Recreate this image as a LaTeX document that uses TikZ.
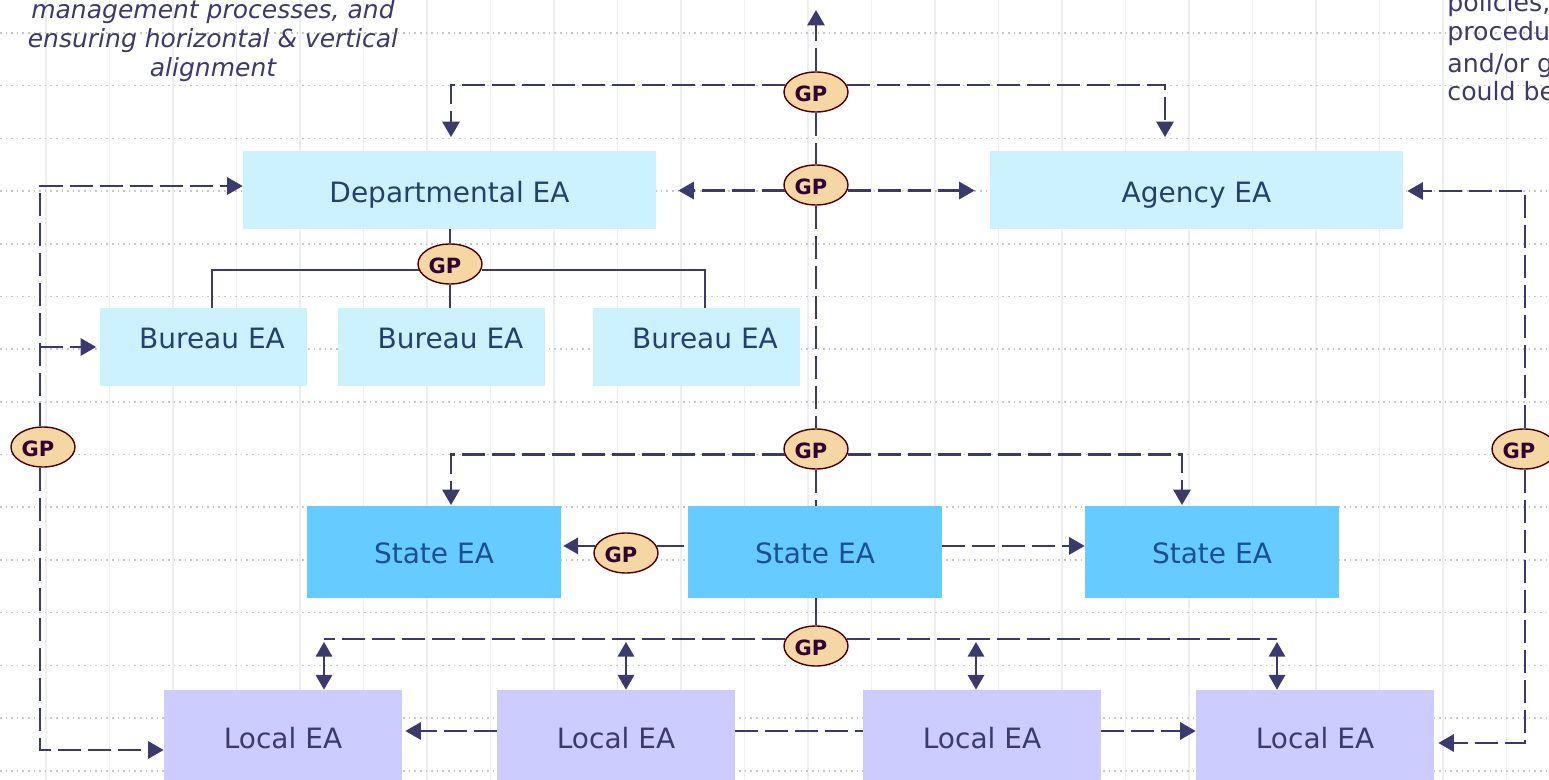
\documentclass[tikz,border=0pt]{standalone}
\usepackage{fontspec}
\setmainfont{DejaVu Sans}
\usetikzlibrary{calc}
\usetikzlibrary{arrows}
\usetikzlibrary{shapes.geometric}
\definecolor{linecol}{HTML}{3B3A6E}
\definecolor{deptcol}{HTML}{CCF2FF}
\definecolor{statecol}{HTML}{66CCFF}
\definecolor{localcol}{HTML}{CCCCFF}
\definecolor{gpcol}{HTML}{F6D7A4}
\definecolor{depttext}{HTML}{24406E}
\definecolor{statetext}{HTML}{1A4E9A}
\newcommand{\gptext}{GP\kern5pt\relax}
\tikzset{
  box/.style={minimum height=39pt, inner sep=0pt, text height=13pt, text depth=0pt, font=\fontsize{14}{16}\selectfont},
  deptbox/.style={box, fill=deptcol, minimum width=206.5pt, text=depttext},
  bureaubox/.style={box, fill=deptcol, minimum width=103.5pt},
  bulabel/.style={xshift=4.5pt, yshift=4.5pt, text=depttext, font=\fontsize{14}{16}\selectfont},
  statebox/.style={box, fill=statecol, minimum width=127pt, minimum height=46pt, text height=11.5pt, text=statetext},
  localbox/.style={box, fill=localcol, minimum width=119pt, minimum height=45pt, text=linecol},
  gp/.style={draw=black!70!red, line width=0.7pt, fill=gpcol, ellipse, minimum width=32pt, minimum height=20pt, inner sep=0pt, text height=9.7pt, text depth=0pt, font=\bfseries\fontsize{10.5}{12}\selectfont, text=black!60!violet},
  plainline/.style={draw=linecol, line width=1pt},
  dashline/.style={draw=linecol, line width=1.1pt, dash pattern=on 11.5pt off 3.5pt},
  note/.style={text=linecol, font=\fontsize{12.6}{15}\selectfont, inner sep=0pt, anchor=base west},
  notei/.style={text=linecol, font=\itshape\fontsize{12.5}{15}\selectfont, inner sep=0pt, anchor=base}
}
\begin{document}
\begin{tikzpicture}[x=0.5pt, y=-0.5pt, >=triangle 60]
\clip (0,0) rectangle (1549,780);

% grid
\foreach \x in {46,109.5,...,1549} \draw[color=linecol!9, line width=0.8pt] (\x,0) -- (\x,780);
\foreach \y in {33,85.7,...,780} \draw[color=black!22, line width=0.8pt, dotted] (0,\y) -- (1549,\y);

% texts at the top
\node[notei] (NL1) at (213,19) {management processes, and};
\node[notei] (NL2) at (213,48) {ensuring horizontal \& vertical};
\node[notei] (NL3) at (213,77) {alignment};
\node[note] (NR1) at (1447,12) {policies,};
\node[note] (NR2) at (1447,41) {procedu};
\node[note] (NR3) at (1447,73) {and/or g};
\node[note] (NR4) at (1447,101) {could be};

% boxes
\node[deptbox] (DEPT) at (449.5,190) {Departmental EA};
\node[deptbox] (AGENCY) at (1196.5,190) {Agency EA};
\node[bureaubox, label={[bulabel]center:Bureau EA}] (BU1) at (203,347) {};
\node[bureaubox, label={[bulabel]center:Bureau EA}] (BU2) at (441.5,347) {};
\node[bureaubox, label={[bulabel]center:Bureau EA}] (BU3) at (696,347) {};
\node[statebox] (ST1) at (434,552) {State EA};
\node[statebox] (ST2) at (815,552) {State EA};
\node[statebox] (ST3) at (1212,552) {State EA};
\node[localbox] (LO1) at (283,735) {Local EA};
\node[localbox] (LO2) at (616,735) {Local EA};
\node[localbox] (LO3) at (982,735) {Local EA};
\node[localbox] (LO4) at (1315,735) {Local EA};

% GP
\node[gp] (GPA) at (816,92) {\gptext};
\node[gp] (GPB) at (816,185) {\gptext};
\node[gp] (GPC) at (816,449) {\gptext};
\node[gp] (GPD) at (450,264) {\gptext};
\node[gp] (GPL) at (43,447) {\gptext};
\node[gp] (GPR) at (1524,449) {\gptext};
\node[gp] (GPS) at (626,553) {\gptext};
\node[gp] (GPT) at (816,646) {\gptext};

% free ends
\coordinate (UP) at (816,10);
\coordinate (AT) at (451,137); \coordinate (BT) at (1165,137);
\coordinate (CT) at (451,505); \coordinate (DT) at (1182,505);
\coordinate (TRL) at (40,347); \coordinate (TRR) at (1525,191);
\coordinate (LA) at (324,642); \coordinate (LB) at (626,642);
\coordinate (LC) at (976,642); \coordinate (LD) at (1277,642);
\coordinate (LY) at (0,731);

% top
\draw[dashline, ->] (GPA) -- (UP);
\draw[dashline, ->] (GPA.167) -| (AT);
\draw[dashline, ->] (GPA.13) -| (BT);
\draw[dashline] (GPA) -- (GPB);
\draw[dashline, ->, shorten >=11pt] (GPB.190) -- (GPB.190 -| DEPT.east);
\draw[dashline, ->, shorten >=7.5pt] (GPB.350) -- (GPB.350 -| AGENCY.west);
\draw[dashline] (GPB) -- (GPC);

% department
\draw[plainline] (GPD |- DEPT.south) -- (GPD);
\draw[plainline] (GPD) -- (GPD |- BU2.north);
\draw[plainline] (GPD.190) -| ($(BU1.north)+(9,0)$);
\draw[plainline] (GPD.350) -| ($(BU3.north)+(9,0)$);

% left side
\draw[dashline, ->] (GPL.north -| TRL) |- (DEPT.west |- 0,186);
\draw[dashline, ->, shorten >=1.5pt] (TRL) -- (TRL -| BU1.west);
\draw[dashline, ->] (GPL.south -| TRL) |- (LO1.west |- 0,750);

% right side
\draw[dashline, ->, shorten >=2pt] (GPR.north -| TRR) |- (AGENCY.east |- TRR);
\draw[dashline, ->, shorten >=2pt] (GPR.south -| TRR) |- (LO4.east |- 0,743);

% state
\draw[dashline, ->] (GPC.190) -| (CT);
\draw[dashline, ->] (GPC.350) -| (DT);
\draw[dashline] (GPC) -- (GPC |- ST2.north);
\draw[plainline, shorten <=2pt] (ST2.west |- GPS.13) -- (GPS.13);
\draw[plainline, ->, shorten >=1pt] (GPS.167) -- (GPS.167 -| ST1.east);
\draw[dashline, ->] (ST2.east |- GPS.13) -- (ST3.west |- GPS.13);
\draw[plainline] (GPT |- ST2.south) -- (GPT);

% local
\draw[dashline] (GPT.167) -- (GPT.167 -| LA);
\draw[dashline] (GPT.13) -- (GPT.13 -| LD);
\draw[plainline, <->] (LA |- LO1.north) -- (LA);
\draw[plainline, <->] (LB |- LO2.north) -- (LB);
\draw[plainline, <->] (LC |- LO3.north) -- (LC);
\draw[plainline, <->] (LD |- LO4.north) -- (LD);
\draw[dashline, ->, shorten >=1.5pt] (LO2.west |- LY) -- (LO1.east |- LY);
\draw[dashline] (LO2.east |- LY) -- (LO3.west |- LY);
\draw[dashline, ->] (LO3.east |- LY) -- (LO4.west |- LY);

\end{tikzpicture}
\end{document}
